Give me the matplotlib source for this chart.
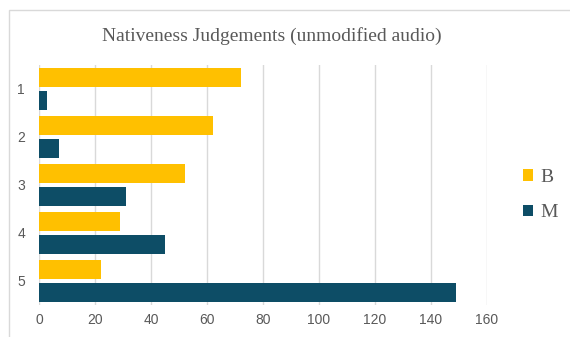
import numpy as np
import matplotlib
matplotlib.use("Agg")
import matplotlib.pyplot as plt
from matplotlib.patches import Rectangle

# nativeness ratings 1..5, counts per group
ratings = ["1", "2", "3", "4", "5"]
b_counts = [72, 62, 52, 29, 22]
m_counts = [3, 7, 31, 45, 149]
series_names = ["B", "M"]

x_ticks = [0, 20, 40, 60, 80, 100, 120, 140, 160]

yellow = "#FFC000"
teal = "#0D4D66"
grey_text = "#595959"

fig = plt.figure(figsize=(5.7, 3.37), dpi=100)
fig.patch.set_facecolor("white")

# light frame round the chart (runs off right and bottom edges)
fig.patches.append(Rectangle((9 / 570, -0.1), 1.2, 1 - 10 / 337 + 0.1,
                             transform=fig.transFigure, fill=False,
                             edgecolor="#D9D9D9", linewidth=1.0))

ax = fig.add_axes([39 / 570, 32 / 337, 448 / 570, 240 / 337])

pos = np.arange(1, len(ratings) + 1)
h = 0.39
ax.barh(pos - 0.244, b_counts, height=h, color=yellow, label=series_names[0], zorder=3)
ax.barh(pos + 0.244, m_counts, height=h, color=teal, label=series_names[1], zorder=3)

ax.set_xlim(0, 160)
ax.set_ylim(5.5, 0.5)
ax.set_xticks(x_ticks)
ax.set_yticks(pos)
ax.set_yticklabels(ratings)
ax.grid(axis="x", color="#D9D9D9", linewidth=1.0, zorder=0)
ax.set_axisbelow(True)
for s in ax.spines.values():
    s.set_visible(False)
ax.tick_params(axis="both", length=0, colors=grey_text)
ax.tick_params(axis="x", pad=6)
ax.tick_params(axis="y", pad=10)
for lab in ax.get_xticklabels() + ax.get_yticklabels():
    lab.set_family("Liberation Sans")
    lab.set_fontsize(10)

fig.text(271.5 / 570, 1 - 36 / 337, "Nativeness Judgements (unmodified audio)",
         ha="center", va="center", family="Liberation Serif",
         fontsize=14, color=grey_text)

leg = fig.legend(*ax.get_legend_handles_labels(), loc="center left",
                 bbox_to_anchor=(513 / 570, 1 - 195 / 337), frameon=False,
                 prop={"family": "Liberation Serif", "size": 14},
                 handlelength=0.55, handleheight=0.55, handletextpad=0.35,
                 labelspacing=0.95, labelcolor=grey_text, borderpad=0)

fig.savefig("out.png", dpi=100)
